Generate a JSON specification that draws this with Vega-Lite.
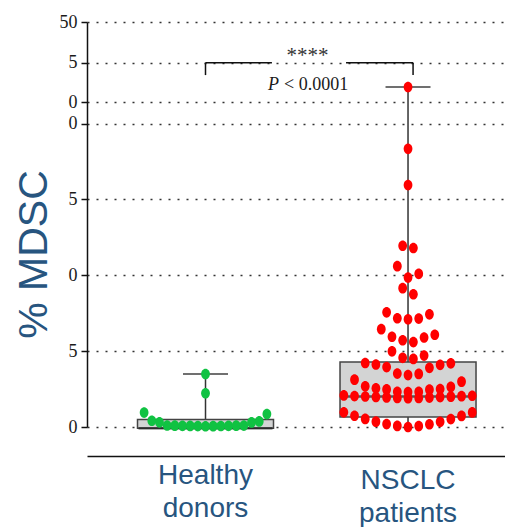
{
  "$schema": "https://vega.github.io/schema/vega-lite/v6.json",
  "width": 418,
  "height": 405,
  "autosize": {"type": "none"},
  "padding": {"left": 87, "top": 22, "right": 0, "bottom": 100},
  "background": "white",
  "config": {"view": {"stroke": null}},
  "datasets": {
    "points": [
      {"group": "Healthy donors", "value": 0.05}, {"group": "Healthy donors", "value": 0.055}, {"group": "Healthy donors", "value": 0.06},
      {"group": "Healthy donors", "value": 0.065}, {"group": "Healthy donors", "value": 0.07}, {"group": "Healthy donors", "value": 0.075},
      {"group": "Healthy donors", "value": 0.08}, {"group": "Healthy donors", "value": 0.085}, {"group": "Healthy donors", "value": 0.09},
      {"group": "Healthy donors", "value": 0.095}, {"group": "Healthy donors", "value": 0.1}, {"group": "Healthy donors", "value": 0.3},
      {"group": "Healthy donors", "value": 0.31}, {"group": "Healthy donors", "value": 0.37}, {"group": "Healthy donors", "value": 0.41},
      {"group": "Healthy donors", "value": 0.85}, {"group": "Healthy donors", "value": 0.95}, {"group": "Healthy donors", "value": 2.22},
      {"group": "Healthy donors", "value": 3.49},
      {"group": "NSCLC patients", "value": 0.0}, {"group": "NSCLC patients", "value": 0.06}, {"group": "NSCLC patients", "value": 0.07},
      {"group": "NSCLC patients", "value": 0.18}, {"group": "NSCLC patients", "value": 0.19}, {"group": "NSCLC patients", "value": 0.34},
      {"group": "NSCLC patients", "value": 0.35}, {"group": "NSCLC patients", "value": 0.52}, {"group": "NSCLC patients", "value": 0.53},
      {"group": "NSCLC patients", "value": 0.73}, {"group": "NSCLC patients", "value": 0.74}, {"group": "NSCLC patients", "value": 0.96},
      {"group": "NSCLC patients", "value": 0.97},
      {"group": "NSCLC patients", "value": 1.9}, {"group": "NSCLC patients", "value": 1.91}, {"group": "NSCLC patients", "value": 1.92},
      {"group": "NSCLC patients", "value": 1.94}, {"group": "NSCLC patients", "value": 1.95}, {"group": "NSCLC patients", "value": 1.97},
      {"group": "NSCLC patients", "value": 1.98}, {"group": "NSCLC patients", "value": 2.0}, {"group": "NSCLC patients", "value": 2.01},
      {"group": "NSCLC patients", "value": 2.03}, {"group": "NSCLC patients", "value": 2.04}, {"group": "NSCLC patients", "value": 2.06},
      {"group": "NSCLC patients", "value": 2.08},
      {"group": "NSCLC patients", "value": 2.3}, {"group": "NSCLC patients", "value": 2.31}, {"group": "NSCLC patients", "value": 2.32},
      {"group": "NSCLC patients", "value": 2.46}, {"group": "NSCLC patients", "value": 2.48}, {"group": "NSCLC patients", "value": 2.5},
      {"group": "NSCLC patients", "value": 2.55}, {"group": "NSCLC patients", "value": 2.64}, {"group": "NSCLC patients", "value": 2.68},
      {"group": "NSCLC patients", "value": 2.99}, {"group": "NSCLC patients", "value": 3.12},
      {"group": "NSCLC patients", "value": 3.42}, {"group": "NSCLC patients", "value": 3.5}, {"group": "NSCLC patients", "value": 3.52},
      {"group": "NSCLC patients", "value": 3.9}, {"group": "NSCLC patients", "value": 3.95}, {"group": "NSCLC patients", "value": 4.1},
      {"group": "NSCLC patients", "value": 4.12}, {"group": "NSCLC patients", "value": 4.2}, {"group": "NSCLC patients", "value": 4.22},
      {"group": "NSCLC patients", "value": 4.49}, {"group": "NSCLC patients", "value": 4.56}, {"group": "NSCLC patients", "value": 4.71},
      {"group": "NSCLC patients", "value": 4.99},
      {"group": "NSCLC patients", "value": 5.6}, {"group": "NSCLC patients", "value": 5.72}, {"group": "NSCLC patients", "value": 5.9},
      {"group": "NSCLC patients", "value": 5.95}, {"group": "NSCLC patients", "value": 6.08}, {"group": "NSCLC patients", "value": 6.45},
      {"group": "NSCLC patients", "value": 7.1}, {"group": "NSCLC patients", "value": 7.15}, {"group": "NSCLC patients", "value": 7.17},
      {"group": "NSCLC patients", "value": 7.43}, {"group": "NSCLC patients", "value": 7.56},
      {"group": "NSCLC patients", "value": 8.75}, {"group": "NSCLC patients", "value": 9.15},
      {"group": "NSCLC patients", "value": 9.85}, {"group": "NSCLC patients", "value": 10.1}, {"group": "NSCLC patients", "value": 10.6},
      {"group": "NSCLC patients", "value": 11.8}, {"group": "NSCLC patients", "value": 11.95},
      {"group": "NSCLC patients", "value": 15.95}, {"group": "NSCLC patients", "value": 18.34}, {"group": "NSCLC patients", "value": 22.41}
    ],
    "boxes": [
      {"group": "Healthy donors", "min": -0.08, "q1": -0.08, "median": -0.08, "q3": 0.5, "max": 3.49},
      {"group": "NSCLC patients", "min": 0.0, "q1": 0.66, "median": 2.01, "q3": 4.28, "max": 22.41}
    ],
    "bracketH": [
      {"pos": 1.0, "pos2": 1.328, "level": 24.02},
      {"pos": 1.694, "pos2": 2.025, "level": 24.02}
    ],
    "bracketV": [
      {"pos": 1.0, "level": 23.2, "level2": 24.02},
      {"pos": 2.025, "level": 23.2, "level2": 24.02}
    ]
  },
  "resolve": {"scale": {"x": "independent"}, "axis": {"x": "independent"}},
  "layer": [
    {
      "data": {"name": "boxes"},
      "layer": [
        {
          "mark": {"type": "rule", "color": "#333333", "strokeWidth": 1.5},
          "encoding": {
            "x": {
              "field": "group", "type": "nominal",
              "scale": {"type": "band", "domain": ["Healthy donors", "NSCLC patients"], "paddingInner": 0.3, "paddingOuter": 0.182, "align": 0.646},
              "axis": {
                "title": null, "offset": 29, "ticks": false, "tickSize": 0,
                "domainColor": "#111111", "domainWidth": 1.5,
                "labelAngle": 0, "labelFont": "Liberation Sans", "labelFontSize": 28, "labelColor": "#27557f",
                "labelBaseline": "top", "labelLineHeight": 33,
                "labelPadding": {"condition": {"test": "datum.value == 'NSCLC patients'", "value": 10}, "value": 5},
                "labelExpr": "split(datum.label, ' ')"
              }
            },
            "y": {
              "field": "min", "type": "quantitative",
              "scale": {"domain": [0, 26.7], "nice": false, "zero": false},
              "axis": {
                "title": "% MDSC", "titleFont": "Liberation Sans", "titleFontSize": 41, "titleFontWeight": "normal",
                "titleColor": "#27557f", "titleX": -41, "titleY": 232, "titleAngle": -90, "titleAlign": "center", "titleBaseline": "alphabetic",
                "values": [0, 5, 10, 15, 20, 21.41, 24.02, 26.7],
                "labelExpr": "datum.value == 26.7 ? '50' : datum.value == 24.02 ? '5' : datum.value == 21.41 ? '0' : datum.value == 20 ? '0' : datum.value == 15 ? '5' : datum.value == 10 ? '0' : datum.value == 5 ? '5' : '0'",
                "labelOverlap": false, "labelFlush": false, "labelBound": false,
                "labelFont": "Liberation Serif", "labelFontSize": 18, "labelColor": "#1a1a1a", "labelPadding": 4,
                "grid": true, "gridDash": [2, 7], "gridColor": "#333333", "gridWidth": 1.5,
                "domainColor": "#111111", "domainWidth": 1.5, "tickColor": "#111111", "tickSize": 6, "tickWidth": 1.5
              }
            },
            "y2": {"field": "max"}
          }
        },
        {
          "mark": {"type": "tick", "color": "#333333", "size": 45, "thickness": 2},
          "encoding": {
            "x": {"field": "group", "type": "nominal"},
            "y": {"field": "max", "type": "quantitative"}
          }
        },
        {
          "mark": {"type": "bar", "fill": "#d3d4d4", "stroke": "#444444", "strokeWidth": 1.5, "width": 136},
          "encoding": {
            "x": {"field": "group", "type": "nominal"},
            "y": {"field": "q1", "type": "quantitative"},
            "y2": {"field": "q3"}
          }
        },
        {
          "mark": {"type": "tick", "color": "#222222", "size": 134, "thickness": 2.5},
          "encoding": {
            "x": {"field": "group", "type": "nominal"},
            "y": {"field": "median", "type": "quantitative"}
          }
        }
      ]
    },
    {
      "data": {"name": "points"},
      "transform": [
        {"calculate": "floor((datum.value + 0.1) / 1.1)", "as": "row"},
        {"window": [{"op": "row_number", "as": "rank"}, {"op": "count", "as": "n"}], "groupby": ["group", "row"], "sort": [{"field": "value", "order": "ascending"}], "frame": [null, null]},
        {"calculate": "(datum.n % 2 == 1 ? (datum.rank % 2 == 0 ? 1 : -1) * floor(datum.rank / 2) : (datum.rank % 2 == 1 ? 1 : -1) * (floor((datum.rank - 1) / 2) + 0.5)) * (datum.group == 'Healthy donors' ? 0.717 : 1)", "as": "slot"}
      ],
      "mark": {"type": "point", "filled": true, "opacity": 1, "size": 114, "strokeWidth": 0, "shape": "M-0.82,0A0.82,1,0,1,1,0.82,0A0.82,1,0,1,1,-0.82,0Z"},
      "encoding": {
        "x": {
          "field": "group", "type": "nominal", "axis": null,
          "scale": {"type": "band", "domain": ["Healthy donors", "NSCLC patients"], "paddingInner": 0.3, "paddingOuter": 0.182, "align": 0.646}
        },
        "xOffset": {"field": "slot", "type": "quantitative", "scale": {"domain": [-6.624, 6.624], "nice": false, "zero": false}},
        "y": {"field": "value", "type": "quantitative"},
        "color": {"field": "group", "type": "nominal", "scale": {"domain": ["Healthy donors", "NSCLC patients"], "range": ["#10c242", "#ff0000"]}, "legend": null}
      }
    },
    {
      "layer": [
        {
          "data": {"name": "bracketH"},
          "mark": {"type": "rule", "color": "#111111", "strokeWidth": 1.5},
          "encoding": {
            "x": {"field": "pos", "type": "quantitative", "axis": null, "scale": {"domain": [0.41481, 2.47901], "nice": false, "zero": false}},
            "x2": {"field": "pos2"},
            "y": {"field": "level", "type": "quantitative"}
          }
        },
        {
          "data": {"name": "bracketV"},
          "mark": {"type": "rule", "color": "#111111", "strokeWidth": 1.5},
          "encoding": {
            "x": {"field": "pos", "type": "quantitative"},
            "y": {"field": "level", "type": "quantitative"},
            "y2": {"field": "level2"}
          }
        },
        {
          "data": {"values": [{"pos": 1.504, "level": 24.06, "label": "****"}]},
          "mark": {"type": "text", "font": "Liberation Serif", "fontSize": 21, "color": "#333333", "align": "center", "baseline": "alphabetic"},
          "encoding": {
            "x": {"field": "pos", "type": "quantitative"},
            "y": {"field": "level", "type": "quantitative"},
            "text": {"field": "label"}
          }
        },
        {
          "data": {"values": [{"pos": 1.309, "level": 22.25, "label": "P"}]},
          "mark": {"type": "text", "font": "Liberation Serif", "fontSize": 18, "fontStyle": "italic", "color": "#1a1a1a", "align": "left", "baseline": "alphabetic"},
          "encoding": {
            "x": {"field": "pos", "type": "quantitative"},
            "y": {"field": "level", "type": "quantitative"},
            "text": {"field": "label"}
          }
        },
        {
          "data": {"values": [{"pos": 1.388, "level": 22.25, "label": "< 0.0001"}]},
          "mark": {"type": "text", "font": "Liberation Serif", "fontSize": 18, "color": "#1a1a1a", "align": "left", "baseline": "alphabetic"},
          "encoding": {
            "x": {"field": "pos", "type": "quantitative"},
            "y": {"field": "level", "type": "quantitative"},
            "text": {"field": "label"}
          }
        }
      ]
    }
  ]
}
